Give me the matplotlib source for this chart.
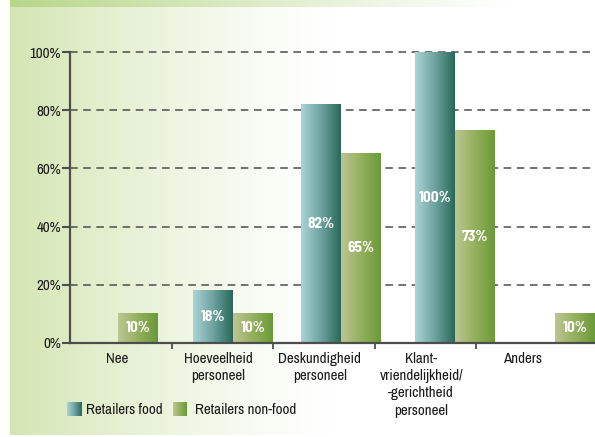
import matplotlib.pyplot as plt
import numpy as np
from matplotlib.colors import LinearSegmentedColormap

categories = ['Nee', 'Hoeveelheid\npersoneel', 'Deskundigheid\npersoneel',
              'Klant-\nvriendelijkheid/\n-gerichtheid\npersoneel', 'Anders']
food = [0, 18, 82, 100, 0]
nonfood = [10, 10, 65, 73, 10]
yticks = [0, 20, 40, 60, 80, 100]

# where each pair of bars sits inside its category slot
group_x = [0.473, 1.606, 2.670, 3.793, 4.778]
bar_w = 0.394

plt.rcParams['font.family'] = ['Archivo Narrow', 'DejaVu Sans']
label_font = ['Barlow Semi Condensed', 'DejaVu Sans']
grey = '#4d4d4d'
txt = '#1a1a1a'
fs = 10.8

food_cmap = LinearSegmentedColormap.from_list('food', ['#acd4d5', '#6ea3a0', '#2a675a'])
nonfood_cmap = LinearSegmentedColormap.from_list('nonfood', ['#bcc693', '#94b05e', '#6a9a38'])

W, H = 595, 437
fig = plt.figure(figsize=(W / 100, H / 100), dpi=100)

# background panel with green wash on the left and a strip on top
bg = fig.add_axes([0, 0, 1, 1], zorder=-1)
bg.set_xlim(0, W)
bg.set_ylim(H, 0)
bg.axis('off')
xs = np.linspace(0, 1, 400)
fade = np.clip(1 - xs / 0.55, 0, 1) ** 1.3
base = np.array([0.83, 0.90, 0.70])
img = 1 - (1 - base)[None, :] * fade[:, None]
bg.imshow(img[None, :, :], extent=(10, W, 435, 7), aspect='auto')
fade2 = np.clip(1 - xs / 0.85, 0, 1) ** 1.1
top = np.array([0.72, 0.84, 0.54])
img2 = 1 - (1 - top)[None, :] * fade2[:, None]
bg.imshow(img2[None, :, :], extent=(10, W, 7, 0), aspect='auto')

ax = fig.add_axes([70 / W, (H - 343) / H, 525 / W, 291 / H])
ax.patch.set_alpha(0)

for y in yticks[1:]:
    ax.axhline(y, color=grey, lw=1.1, ls=(0, (5, 3.6)), zorder=1, clip_on=False)

grad = np.linspace(0, 1, 256)[None, :]


def gradient_bars(xpos, vals, cmap):
    bars = ax.bar(xpos, vals, width=bar_w, color='none', zorder=2)
    for b in bars:
        if b.get_height() <= 0:
            continue
        x0 = b.get_x()
        ax.imshow(grad, cmap=cmap, extent=(x0, x0 + b.get_width(), 0, b.get_height()),
                  aspect='auto', zorder=2)
    return bars


xf = [g - bar_w / 2 for g in group_x]
xn = [g + bar_w / 2 for g in group_x]
gradient_bars(xf, food, food_cmap)
gradient_bars(xn, nonfood, nonfood_cmap)
ax.set_xlim(0, 525 / 101.5)
ax.set_ylim(0, 100)

for x, v in list(zip(xf, food)) + list(zip(xn, nonfood)):
    if v > 0:
        ax.text(x, v / 2, f'{v}%', ha='center', va='center', color='white',
                fontsize=11, fontweight='bold', family=label_font, zorder=4)

for sp in ['top', 'right']:
    ax.spines[sp].set_visible(False)
for sp in ['left', 'bottom']:
    ax.spines[sp].set_color(grey)
    ax.spines[sp].set_linewidth(1.6)
    ax.spines[sp].set_zorder(5)

ax.set_yticks(yticks)
ax.set_yticklabels([f'{t}%' for t in yticks], fontsize=fs, color=txt)
ax.tick_params(axis='y', length=6, width=1.5, color=grey, pad=0.5)
ax.set_xticks([1, 2, 3, 4])
ax.set_xticklabels([])
ax.tick_params(axis='x', length=4, width=1.3, color=grey)

for i, c in enumerate(categories):
    ax.text(i + 0.46, -3.0, c, ha='center', va='top', fontsize=fs, color=txt,
            linespacing=1.3)

# legend swatches with the same gradients
lax = fig.add_axes([0, 0, 1, 1], zorder=3)
lax.axis('off')
lax.imshow(grad, cmap=food_cmap, extent=(67, 82, 416, 402), aspect='auto')
lax.imshow(grad, cmap=nonfood_cmap, extent=(173, 187, 416, 402), aspect='auto')
lax.set_xlim(0, W)
lax.set_ylim(H, 0)
lax.text(86, 409.5, 'Retailers food', va='center', fontsize=fs, color=txt)
lax.text(195, 409.5, 'Retailers non-food', va='center', fontsize=fs, color=txt)

fig.savefig('out.png', dpi=100)
